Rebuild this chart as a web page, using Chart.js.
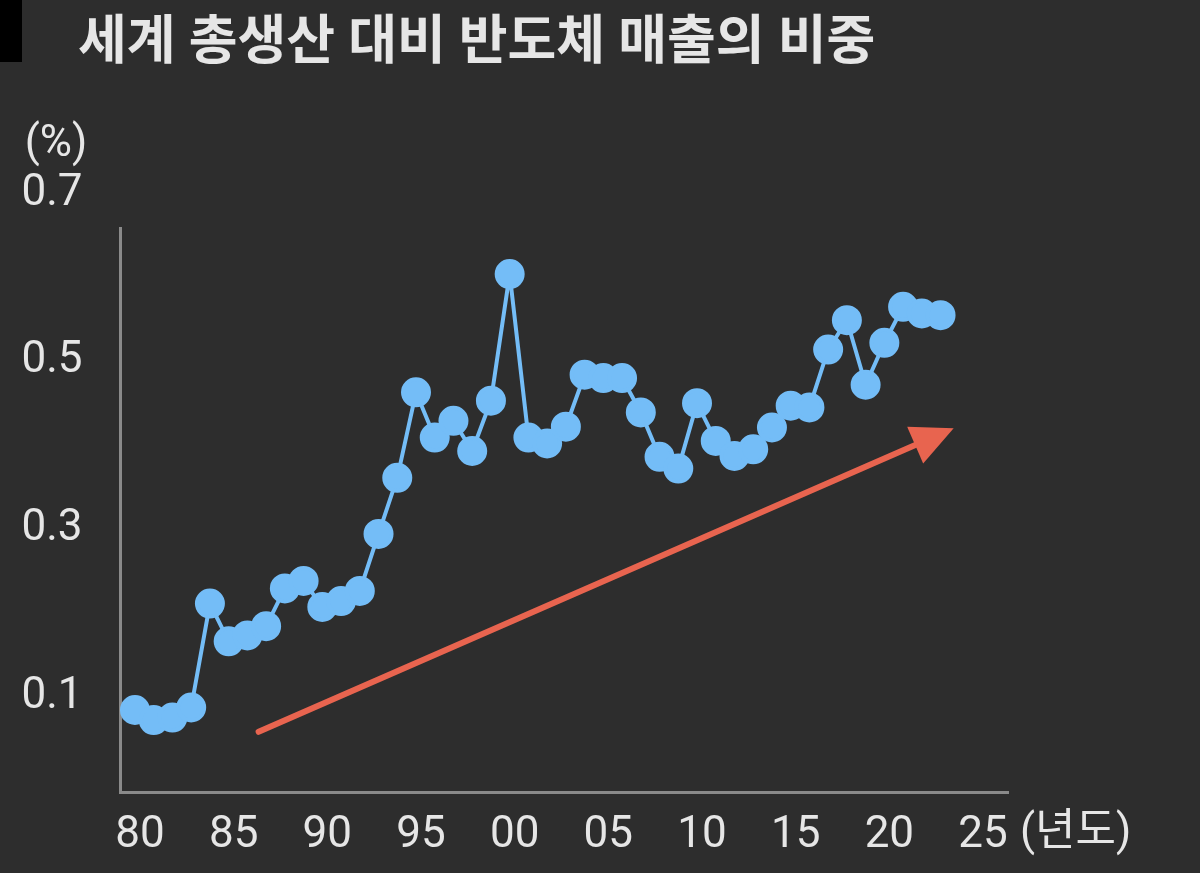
<!DOCTYPE html>
<html><head><meta charset="utf-8">
<script src="https://cdn.jsdelivr.net/npm/chart.js@4/dist/chart.umd.min.js"></script>
<style>html,body{margin:0;background:#2d2d2d;}#w{width:1200px;height:873px;}</style>
</head><body><div id="w"><canvas id="c"></canvas></div>
<script>
const years = [];
for (let y = 1980; y <= 2023; y++) years.push(y);
const shares = [0.084,0.072,0.075,0.087,0.211,0.166,0.173,0.184,0.229,0.238,0.207,0.214,0.226,0.294,0.361,0.463,0.409,0.429,0.393,0.453,0.604,0.409,0.402,0.422,0.484,0.480,0.480,0.439,0.386,0.372,0.450,0.405,0.387,0.395,0.421,0.447,0.445,0.514,0.549,0.472,0.522,0.565,0.557,0.555];
const xTicks = [1980,1985,1990,1995,2000,2005,2010,2015,2020,2025];
const xTickLabels = ['80','85','90','95','00','05','10','15','20','25'];
const yTicks = [0.1,0.3,0.5,0.7];
const trendArrow = [{x:1986.6,y:0.058},{x:2023.7,y:0.420}];
const title = '세계 총생산 대비 반도체 매출의 비중';

const FONT = '"Roboto","Noto Sans CJK KR",sans-serif';
const deco = {
  id:'deco',
  beforeDraw(ch){const c=ch.ctx;c.save();c.fillStyle='#2d2d2d';c.fillRect(0,0,ch.width,ch.height);c.fillStyle='#000';c.fillRect(0,0,22,62);c.restore();},
  afterDatasetsDraw(ch){
    const c=ch.ctx,xs=ch.scales.x,ys=ch.scales.y;c.save();
    const x1=xs.getPixelForValue(trendArrow[0].x),y1=ys.getPixelForValue(trendArrow[0].y);
    const x2=xs.getPixelForValue(trendArrow[1].x),y2=ys.getPixelForValue(trendArrow[1].y);
    const a=Math.atan2(y2-y1,x2-x1);
    c.strokeStyle='#e8644f';c.fillStyle='#e8644f';c.lineWidth=6;c.lineCap='round';
    c.beginPath();c.moveTo(x1,y1);c.lineTo(x2-30*Math.cos(a),y2-30*Math.sin(a));c.stroke();
    c.beginPath();c.moveTo(x2,y2);
    c.lineTo(x2-42*Math.cos(a)+20*Math.sin(a),y2-42*Math.sin(a)-20*Math.cos(a));
    c.lineTo(x2-42*Math.cos(a)-20*Math.sin(a),y2-42*Math.sin(a)+20*Math.cos(a));
    c.closePath();c.fill();
    c.fillStyle='#e6e6e6';c.textBaseline='middle';
    c.font='bold 53px '+FONT;c.textAlign='left';c.fillText(title,78,46);
    c.font='44px '+FONT;c.textAlign='center';
    c.fillText('(%)',56,145);
    yTicks.forEach(v=>c.fillText(v.toFixed(1),52,ys.getPixelForValue(v)));
    xTicks.forEach((v,i)=>c.fillText(xTickLabels[i],xs.getPixelForValue(v)+5,836));
    c.textAlign='left';c.fillText('(년도)',1020,834);
    c.restore();
  }
};
new Chart(document.getElementById('c'),{
  type:'line',
  data:{datasets:[{data:years.map((y,i)=>({x:y,y:shares[i]})),borderColor:'#74bdf7',backgroundColor:'#74bdf7',borderWidth:4,pointRadius:13,pointHoverRadius:13,tension:0}]},
  options:{responsive:true,maintainAspectRatio:false,animation:false,
    layout:{padding:{left:112,right:192,top:228,bottom:73}},
    plugins:{legend:{display:false},tooltip:{enabled:false}},
    scales:{
      x:{type:'linear',min:1979.2,max:2026.6,ticks:{display:false},grid:{display:false},border:{display:true,color:'#8a8a8a',width:3}},
      y:{min:-0.0138,max:0.659,ticks:{display:false},grid:{display:false},border:{display:true,color:'#8a8a8a',width:3}}
    }
  },
  plugins:[deco]
});
</script></body></html>
